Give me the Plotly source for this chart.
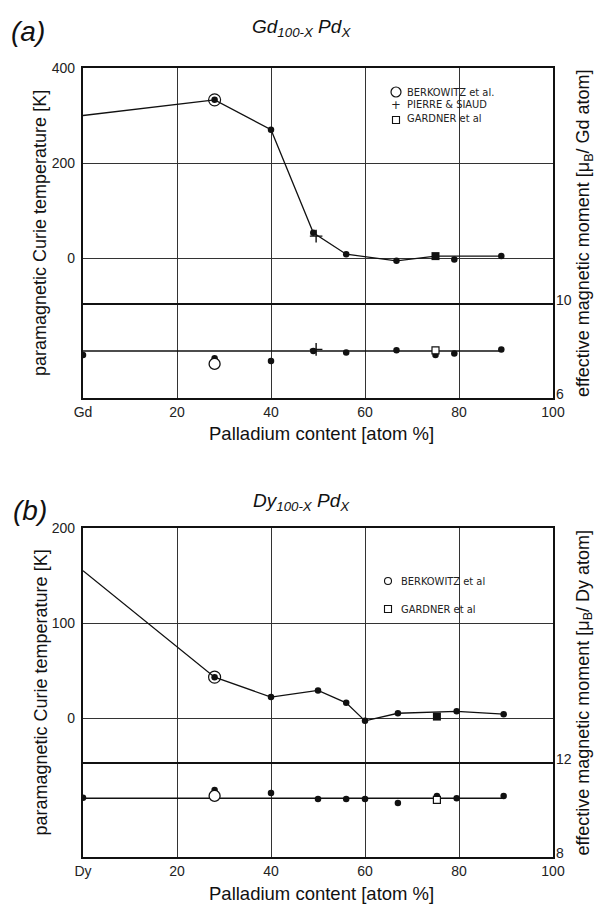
import plotly.graph_objects as go

# ---------------- data: Gd(100-x)Pd(x) ----------------
gd_tc_x = [0, 28, 40, 49, 56, 66.7, 75, 89]
gd_tc_y = [300, 333, 270, 53, 8, -6, 4, 4]
gd_dot_x = [28, 40, 49, 56, 66.7, 79, 89]
gd_dot_y = [333, 270, 53, 8, -6, -3, 4]
gd_berk_tc_x = [28]
gd_berk_tc_y = [333]
gd_pierre_tc_x = [49.6]
gd_pierre_tc_y = [46]
gd_gard_tc_x = [75]
gd_gard_tc_y = [4]

gd_mu_line_x = [0, 89]
gd_mu_line_y = [8.0, 8.0]
gd_mu_x = [0, 28, 40, 49, 56, 66.7, 75, 79, 89]
gd_mu_y = [7.83, 7.69, 7.57, 8.0, 7.94, 8.03, 7.83, 7.89, 8.06]
gd_berk_mu_x = [28]
gd_berk_mu_y = [7.45]
gd_pierre_mu_x = [49.6]
gd_pierre_mu_y = [8.07]
gd_gard_mu_x = [75]
gd_gard_mu_y = [8.03]

# ---------------- data: Dy(100-x)Pd(x) ----------------
dy_tc_x = [0, 28, 40, 50, 56, 60, 67, 79.5, 89.5]
dy_tc_y = [155, 43, 22, 29, 16, -3, 5, 7, 4]
dy_dot_x = [28, 40, 50, 56, 60, 67, 79.5, 89.5]
dy_dot_y = [43, 22, 29, 16, -3, 5, 7, 4]
dy_berk_tc_x = [28]
dy_berk_tc_y = [43]
dy_gard_tc_x = [75.3]
dy_gard_tc_y = [1.5]

dy_mu_line_x = [0, 89.5]
dy_mu_line_y = [10.5, 10.5]
dy_mu_x = [0, 28, 40, 50, 56, 60, 67, 75.3, 79.5, 89.5]
dy_mu_y = [10.52, 10.85, 10.72, 10.47, 10.47, 10.47, 10.3, 10.6, 10.5, 10.6]
dy_berk_mu_x = [28]
dy_berk_mu_y = [10.6]
dy_gard_mu_x = [75.3]
dy_gard_mu_y = [10.43]

x_ticks = [0, 20, 40, 60, 80, 100]
gd_x_labels = ["Gd", "20", "40", "60", "80", "100"]
dy_x_labels = ["Dy", "20", "40", "60", "80", "100"]

W, H = 599, 904
INK = "#111111"
TICK_FONT = dict(family="Liberation Sans, Arial, sans-serif", size=14, color="#222222")
LABEL_FONT = dict(family="Liberation Sans, Arial, sans-serif", size=18, color="#111111")


def px(x):
    return x / W


def py(y):
    return 1 - y / H


fig = go.Figure()


def add_panel(xa, ya, ya2, tc_x, tc_y, dot_x, dot_y, berk_tc, gard_tc,
              mu_line, mu_pts, berk_mu, gard_mu, pierre_tc=None, pierre_mu=None):
    # Curie temperature curve
    fig.add_trace(go.Scatter(x=tc_x, y=tc_y, mode="lines", xaxis=xa, yaxis=ya,
                             line=dict(color=INK, width=1.3), showlegend=False))
    fig.add_trace(go.Scatter(x=dot_x, y=dot_y, mode="markers", xaxis=xa, yaxis=ya,
                             marker=dict(color=INK, size=6.5), showlegend=False))
    fig.add_trace(go.Scatter(x=berk_tc[0], y=berk_tc[1], mode="markers", xaxis=xa, yaxis=ya,
                             marker=dict(symbol="circle-open", color=INK, size=12,
                                         line=dict(width=1.2)), showlegend=False))
    fig.add_trace(go.Scatter(x=gard_tc[0], y=gard_tc[1], mode="markers", xaxis=xa, yaxis=ya,
                             marker=dict(symbol="square", color=INK, size=8), showlegend=False))
    if pierre_tc:
        fig.add_trace(go.Scatter(x=pierre_tc[0], y=pierre_tc[1], mode="markers", xaxis=xa, yaxis=ya,
                                 marker=dict(symbol="cross-thin", color=INK, size=9,
                                             line=dict(width=1.4, color=INK)), showlegend=False))
    # effective magnetic moment
    fig.add_trace(go.Scatter(x=mu_line[0], y=mu_line[1], mode="lines", xaxis=xa, yaxis=ya2,
                             line=dict(color=INK, width=1.5), showlegend=False))
    fig.add_trace(go.Scatter(x=mu_pts[0], y=mu_pts[1], mode="markers", xaxis=xa, yaxis=ya2,
                             marker=dict(color=INK, size=6.5), showlegend=False))
    fig.add_trace(go.Scatter(x=berk_mu[0], y=berk_mu[1], mode="markers", xaxis=xa, yaxis=ya2,
                             marker=dict(symbol="circle", color="white", size=11,
                                         line=dict(width=1.3, color=INK)), showlegend=False))
    fig.add_trace(go.Scatter(x=gard_mu[0], y=gard_mu[1], mode="markers", xaxis=xa, yaxis=ya2,
                             marker=dict(symbol="square", color="white", size=7,
                                         line=dict(width=1.2, color=INK)), showlegend=False))
    if pierre_mu:
        fig.add_trace(go.Scatter(x=pierre_mu[0], y=pierre_mu[1], mode="markers", xaxis=xa, yaxis=ya2,
                                 marker=dict(symbol="cross-thin", color=INK, size=9,
                                             line=dict(width=1.4, color=INK)), showlegend=False))


add_panel("x", "y", "y2", gd_tc_x, gd_tc_y, gd_dot_x, gd_dot_y,
          (gd_berk_tc_x, gd_berk_tc_y), (gd_gard_tc_x, gd_gard_tc_y),
          (gd_mu_line_x, gd_mu_line_y), (gd_mu_x, gd_mu_y),
          (gd_berk_mu_x, gd_berk_mu_y), (gd_gard_mu_x, gd_gard_mu_y),
          (gd_pierre_tc_x, gd_pierre_tc_y), (gd_pierre_mu_x, gd_pierre_mu_y))
add_panel("x2", "y3", "y4", dy_tc_x, dy_tc_y, dy_dot_x, dy_dot_y,
          (dy_berk_tc_x, dy_berk_tc_y), (dy_gard_tc_x, dy_gard_tc_y),
          (dy_mu_line_x, dy_mu_line_y), (dy_mu_x, dy_mu_y),
          (dy_berk_mu_x, dy_berk_mu_y), (dy_gard_mu_x, dy_gard_mu_y))

x_dom = [px(83), px(553)]
a_dom = [py(398), py(68)]
b_dom = [py(857), py(528)]

common_x = dict(range=[0, 100], tickvals=x_ticks, showgrid=True, gridcolor="#333333",
                gridwidth=1, zeroline=False, showline=True, linecolor=INK, linewidth=2.2,
                mirror=True, ticks="", ticklen=0, tickfont=TICK_FONT, ticklabelstandoff=0,
                automargin=False)
common_yl = dict(showgrid=True, gridcolor="#333333", gridwidth=1, zeroline=False,
                 showline=True, linecolor=INK, linewidth=2.2, mirror=True, ticks="",
                 ticklen=0, tickfont=TICK_FONT, ticklabelstandoff=3, automargin=False)
common_yr = dict(side="right", showgrid=True, gridcolor=INK, gridwidth=2.2, zeroline=False,
                 showline=False, ticks="", ticklen=0, tickfont=TICK_FONT, automargin=False,
                 ticklabelshift=-4, ticklabelstandoff=2)

fig.update_layout(
    width=W, height=H, margin=dict(l=0, r=0, t=0, b=0, autoexpand=False),
    paper_bgcolor="white", plot_bgcolor="white",
    xaxis=dict(common_x, domain=x_dom, anchor="y", ticktext=gd_x_labels),
    yaxis=dict(common_yl, domain=a_dom, anchor="x", range=[-294.7, 400], tickvals=[0, 200, 400]),
    yaxis2=dict(common_yr, overlaying="y", anchor="x", range=[6, 20.04], tickvals=[6, 10]),
    xaxis2=dict(common_x, domain=x_dom, anchor="y3", ticktext=dy_x_labels),
    yaxis3=dict(common_yl, domain=b_dom, anchor="x2", range=[-146.3, 200], tickvals=[0, 100, 200]),
    yaxis4=dict(common_yr, overlaying="y3", anchor="x2", range=[8, 22.0], tickvals=[8, 12]),
)

ann = []
shapes = []


def text(x, y, s, font, xanchor="center", **kw):
    ann.append(dict(x=px(x), y=py(y), xref="paper", yref="paper", text=s, showarrow=False,
                    font=font, xanchor=xanchor, yanchor="middle", **kw))


title_font = dict(family="Liberation Sans, Arial, sans-serif", size=19, color="#111111")
tag_font = dict(family="Liberation Sans, Arial, sans-serif", size=28, color="#111111")
leg_font = dict(family="Liberation Sans Narrow, DejaVu Sans Condensed, sans-serif", size=11, color="#222222")

# panel tags and titles
text(28, 31, "<i>(a)</i>", tag_font)
text(301, 28, "<i>Gd<sub>100-X</sub> Pd<sub>X</sub></i>", title_font)
text(30, 511, "<i>(b)</i>", tag_font)
text(301, 502, "<i>Dy<sub>100-X</sub> Pd<sub>X</sub></i>", title_font)

# axis titles
for top, bot, xlab_y, elem in [(68, 398, 433, "Gd"), (528, 857, 893, "Dy")]:
    mid = (top + bot) / 2
    text(40, mid, "paramagnetic Curie temperature [K]", LABEL_FONT, textangle=-90)
    text(584, mid, "effective magnetic moment [μ<sub>B</sub>/ %s atom]" % elem, LABEL_FONT,
         textangle=-90)
    text(321, xlab_y, "Palladium content [atom %]", dict(LABEL_FONT, size=18.5))

# legend (a)
shapes.append(dict(type="circle", xref="paper", yref="paper", x0=px(391), x1=px(401),
                   y0=py(97), y1=py(87), line=dict(color=INK, width=1.2)))
text(396, 105, "+", dict(leg_font, size=13))
shapes.append(dict(type="rect", xref="paper", yref="paper", x0=px(392.5), x1=px(399.5),
                   y0=py(123.5), y1=py(116.5), line=dict(color=INK, width=1.1)))
text(405, 92, "BERKOWITZ et al.", leg_font, xanchor="left")
text(405, 105, "PIERRE & SIAUD", leg_font, xanchor="left")
text(405, 119, "GARDNER et al", leg_font, xanchor="left")

# legend (b)
shapes.append(dict(type="circle", xref="paper", yref="paper", x0=px(384.5), x1=px(391.5),
                   y0=py(584.5), y1=py(577.5), line=dict(color=INK, width=1.1)))
shapes.append(dict(type="rect", xref="paper", yref="paper", x0=px(384.5), x1=px(391.5),
                   y0=py(612.5), y1=py(605.5), line=dict(color=INK, width=1.1)))
text(399, 581, "BERKOWITZ et al", leg_font, xanchor="left")
text(399, 609, "GARDNER et al", leg_font, xanchor="left")

fig.update_layout(annotations=ann, shapes=shapes)
fig.write_html("out.html")
